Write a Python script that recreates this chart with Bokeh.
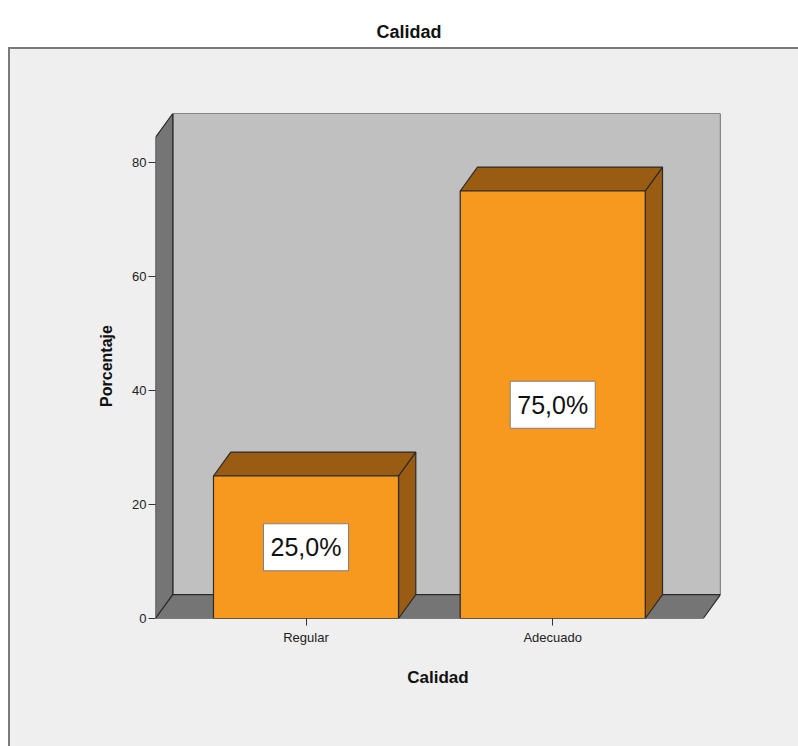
from bokeh.plotting import figure
from bokeh.models import ColumnDataSource, Range1d, FixedTicker, LabelSet
from bokeh.core.properties import value
from bokeh.embed import file_html
from bokeh.resources import INLINE

# --- data -------------------------------------------------------------
categories = ["Regular", "Adecuado"]
percentages = [25.0, 75.0]
y_ticks = [0, 20, 40, 60, 80]

# --- 3D-style layout constants (data units) ---------------------------
positions = [1, 2]
BAR_W = 0.75
DX, DY = 0.07, 4.2          # depth offset of the 3D extrusion
X0, X1 = 0.39, 2.68         # horizontal extent of the floor / back wall
WALL_TOP = 84.4             # height of the side wall

NARROW = "'Liberation Sans Narrow', 'Liberation Sans', Arial, sans-serif"
SANS = "'Liberation Sans', Arial, sans-serif"

ORANGE = "#f7991f"
ORANGE_DARK = "#9a5c12"
WALL_DARK = "#757575"
WALL_LIGHT = "#c0c0c0"
EDGE = "#2a2a2a"
PANEL = "#efefef"

# chart area: light panel with a grey top/left border on a white page
panel_css = (f"linear-gradient({PANEL}, {PANEL}) 10px 49px / 100% 100% no-repeat, "
             "linear-gradient(#7a7a7a, #7a7a7a) 8px 47px / 100% 100% no-repeat, #ffffff")

p = figure(width=798, height=746,
           x_range=Range1d(X0, X1), y_range=Range1d(0, WALL_TOP + DY),
           output_backend="svg", toolbar_location=None,
           min_border_left=155, min_border_right=78,
           min_border_top=113, min_border_bottom=128,
           border_fill_alpha=0, background_fill_color=PANEL,
           styles={"background": panel_css})
p.grid.visible = False
p.outline_line_color = None

# back wall
p.quad(left=[X0 + DX], right=[X1], bottom=[DY], top=[WALL_TOP + DY],
       fill_color=WALL_LIGHT, line_color=EDGE, line_width=1.2)
# left side wall
p.patch([X0, X0, X0 + DX, X0 + DX], [0, WALL_TOP, WALL_TOP + DY, DY],
        fill_color=WALL_DARK, line_color=EDGE, line_width=1.2)
# floor
p.patch([X0, X0 + DX, X1, X1 - DX], [0, DY, DY, 0],
        fill_color=WALL_DARK, line_color=EDGE, line_width=1.2)

# bars: side and top faces, then the front face
lefts = [c - BAR_W / 2 for c in positions]
rights = [c + BAR_W / 2 for c in positions]
side_xs = [[r, r, r + DX, r + DX] for r in rights]
side_ys = [[0, v, v + DY, DY] for v in percentages]
top_xs = [[l, l + DX, r + DX, r] for l, r in zip(lefts, rights)]
top_ys = [[v, v + DY, v + DY, v] for v in percentages]
p.patches(side_xs, side_ys, fill_color=ORANGE_DARK, line_color=EDGE, line_width=1.2)
p.patches(top_xs, top_ys, fill_color=ORANGE_DARK, line_color=EDGE, line_width=1.2)
p.quad(left=lefts, right=rights, bottom=0, top=percentages,
       fill_color=ORANGE, line_color=EDGE, line_width=1.2)

# value labels in white boxes
labels = ColumnDataSource(dict(
    x=positions,
    y=[v / 2 for v in percentages],
    text=[f"{v:.1f}".replace(".", ",") + "%" for v in percentages],
))
p.rect(x="x", y="y", width=85, height=47, width_units="screen", height_units="screen",
       source=labels, fill_color="white", line_color="#7f7f7f", line_width=1)
p.add_layout(LabelSet(x="x", y="y", text="text", source=labels,
                      text_align="center", text_baseline="middle",
                      text_font=value(SANS), text_font_size="25px", text_color="#111111"))

# axes
yax = p.yaxis[0]
yax.ticker = FixedTicker(ticks=y_ticks)
yax.axis_line_color = None
yax.major_tick_out = 7
yax.major_tick_in = 0
yax.minor_tick_line_color = None
yax.major_tick_line_color = "#333333"
yax.major_label_standoff = 2
yax.major_label_text_font = NARROW
yax.major_label_text_font_size = "13px"
yax.major_label_text_color = "#222222"
yax.axis_label = "Porcentaje"
yax.axis_label_text_font = SANS
yax.axis_label_text_font_style = "bold"
yax.axis_label_text_font_size = "16px"
yax.axis_label_text_color = "#111111"
yax.axis_label_standoff = 14

xax = p.xaxis[0]
xax.ticker = FixedTicker(ticks=positions)
xax.major_label_overrides = {pos: cat for pos, cat in zip(positions, categories)}
xax.axis_line_color = None
xax.major_tick_out = 7
xax.major_tick_in = 0
xax.minor_tick_line_color = None
xax.major_tick_line_color = "#333333"
xax.major_label_standoff = 4
xax.major_label_text_font = NARROW
xax.major_label_text_font_size = "13px"
xax.major_label_text_color = "#222222"
xax.axis_label = "Calidad"
xax.axis_label_text_font = NARROW
xax.axis_label_text_font_style = "bold"
xax.axis_label_text_font_size = "17px"
xax.axis_label_text_color = "#111111"
xax.axis_label_standoff = 20

# chart title, lifted above the framed panel by trailing empty lines
p.title.text = "Calidad\n\n\n"
p.title.align = "left"
p.title.offset = 221
p.title.standoff = 24
p.title.text_font = NARROW
p.title.text_font_style = "bold"
p.title.text_font_size = "18px"
p.title.text_color = "#111111"

open("out.html", "w").write(file_html(p, INLINE))
